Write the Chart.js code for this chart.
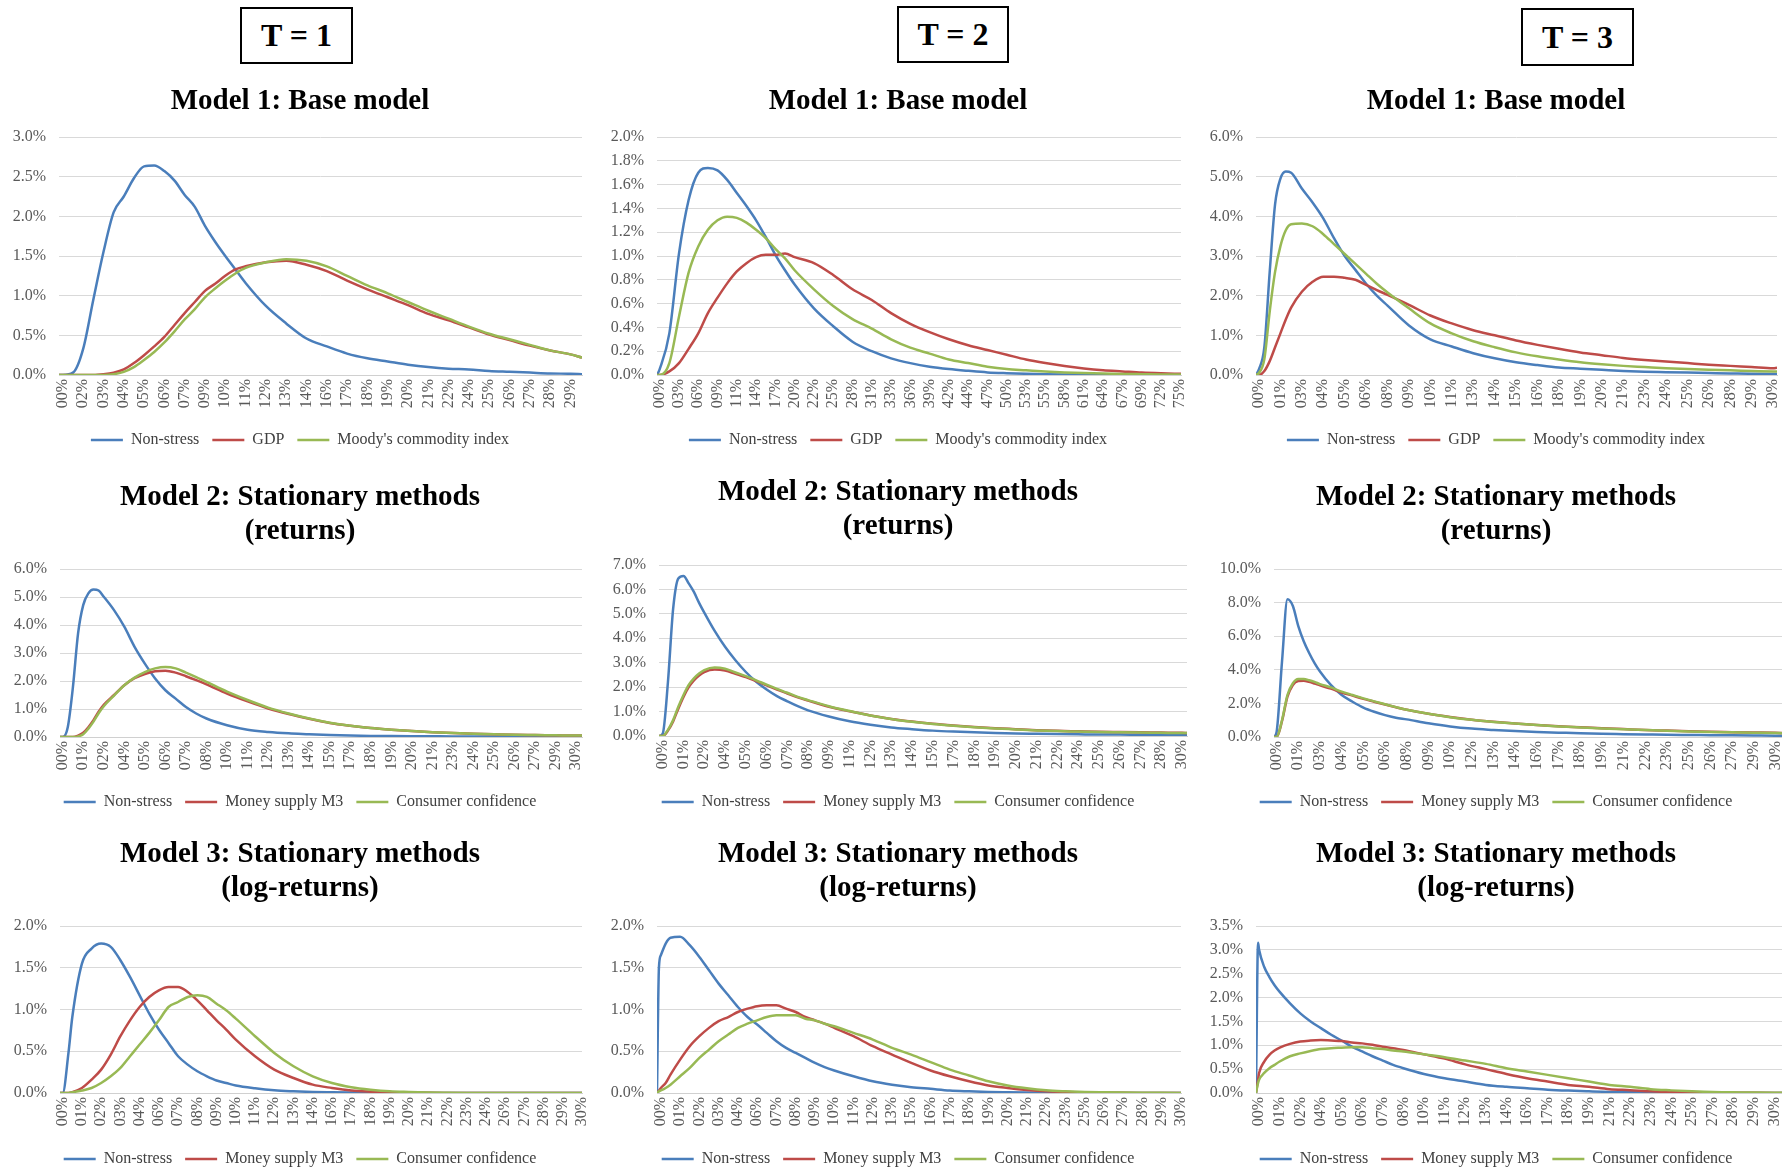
<!DOCTYPE html>
<html>
<head>
<meta charset="utf-8">
<script src="https://cdn.jsdelivr.net/npm/chart.js@4.4.1/dist/chart.umd.min.js"></script>
<style>
  body { margin: 0; width: 1782px; height: 1170px; overflow: hidden; background: #fff; position: relative;
         font-family: 'Liberation Serif', 'Times New Roman', serif; }
  .tbox { position: absolute; border: 2px solid #000; box-sizing: border-box; font-weight: bold; font-size: 32px;
          display: flex; align-items: center; justify-content: center; color: #000; }
  .cell { position: absolute; }
</style>
</head>
<body>
<div class="tbox" style="left:240px;top:7px;width:113px;height:57px">T = 1</div>
<div class="tbox" style="left:897px;top:6px;width:112px;height:57px">T = 2</div>
<div class="tbox" style="left:1521px;top:8px;width:113px;height:58px">T = 3</div>

<div class="cell" id="p1"><canvas></canvas></div>
<div class="cell" id="p2"><canvas></canvas></div>
<div class="cell" id="p3"><canvas></canvas></div>
<div class="cell" id="p4"><canvas></canvas></div>
<div class="cell" id="p5"><canvas></canvas></div>
<div class="cell" id="p6"><canvas></canvas></div>
<div class="cell" id="p7"><canvas></canvas></div>
<div class="cell" id="p8"><canvas></canvas></div>
<div class="cell" id="p9"><canvas></canvas></div>

<script>
// series names
const NAMES_M1 = ['Non-stress', 'GDP', "Moody's commodity index"];
const NAMES_M23 = ['Non-stress', 'Money supply M3', 'Consumer confidence'];

// x positions are in units of the printed tick labels (0 = first label)

// ---- T = 1, Model 1
const T1_M1_TICKS = ['00%','02%','03%','04%','05%','06%','07%','09%','10%','11%','12%','13%','14%','16%','17%','18%','19%','20%','21%','22%','24%','25%','26%','27%','28%','29%'];
const T1_M1_Y = [0, 0.5, 1, 1.5, 2, 2.5, 3];
const T1_M1_X = [-0.19, 0, 0.5, 1, 1.5, 2, 2.5, 3, 3.5, 4, 4.5, 5, 5.5, 6, 6.5, 7, 7.5, 8, 8.5, 9, 10, 11, 12, 13, 14, 15, 16, 17, 18, 19, 20, 21, 22, 23, 24, 25, 25.57];
const T1_M1_NONSTRESS = [0, 0, 0.03, 0.33, 0.95, 1.55, 2.05, 2.25, 2.48, 2.63, 2.64, 2.57, 2.45, 2.27, 2.12, 1.88, 1.68, 1.50, 1.33, 1.16, 0.87, 0.65, 0.46, 0.36, 0.27, 0.21, 0.17, 0.13, 0.10, 0.08, 0.07, 0.05, 0.04, 0.03, 0.02, 0.015, 0.01];
const T1_M1_GDP = [0, 0, 0, 0, 0, 0.01, 0.03, 0.07, 0.15, 0.25, 0.36, 0.48, 0.63, 0.78, 0.92, 1.06, 1.15, 1.25, 1.33, 1.37, 1.42, 1.44, 1.39, 1.31, 1.19, 1.08, 0.98, 0.88, 0.77, 0.69, 0.60, 0.51, 0.44, 0.37, 0.31, 0.26, 0.22];
const T1_M1_MOODYS = [0, 0, 0, 0, 0, 0, 0.01, 0.04, 0.10, 0.19, 0.29, 0.41, 0.55, 0.70, 0.83, 0.98, 1.09, 1.19, 1.28, 1.35, 1.42, 1.46, 1.44, 1.37, 1.25, 1.13, 1.03, 0.92, 0.81, 0.71, 0.61, 0.52, 0.45, 0.38, 0.31, 0.26, 0.22];

// ---- T = 2, Model 1
const T2_M1_TICKS = ['00%','03%','06%','09%','11%','14%','17%','20%','22%','25%','28%','31%','33%','36%','39%','42%','44%','47%','50%','53%','55%','58%','61%','64%','67%','69%','72%','75%'];
const T2_M1_Y = [0, 0.2, 0.4, 0.6, 0.8, 1.0, 1.2, 1.4, 1.6, 1.8, 2.0];
const T2_M1_X = [-0.14, 0, 0.5, 1, 1.5, 2, 2.5, 3, 3.5, 4, 4.5, 5, 5.5, 6, 6.5, 7, 8, 9, 10, 11, 12, 13, 14, 15, 16, 17, 18, 19, 20, 21, 22, 23, 24, 25, 26, 27.04];
const T2_M1_NONSTRESS = [0, 0.05, 0.35, 1.02, 1.47, 1.70, 1.74, 1.72, 1.64, 1.53, 1.42, 1.30, 1.16, 1.01, 0.88, 0.76, 0.56, 0.41, 0.28, 0.20, 0.14, 0.10, 0.07, 0.05, 0.035, 0.022, 0.015, 0.01, 0.007, 0.005, 0.004, 0.003, 0.002, 0.002, 0.001, 0.001];
const T2_M1_GDP = [0, 0, 0.03, 0.10, 0.22, 0.35, 0.52, 0.65, 0.77, 0.87, 0.94, 0.99, 1.01, 1.01, 1.02, 0.99, 0.94, 0.84, 0.72, 0.63, 0.52, 0.43, 0.36, 0.30, 0.25, 0.21, 0.17, 0.13, 0.10, 0.075, 0.055, 0.04, 0.03, 0.02, 0.014, 0.01];
const T2_M1_MOODYS = [0, 0, 0.10, 0.49, 0.86, 1.08, 1.22, 1.30, 1.33, 1.32, 1.28, 1.22, 1.15, 1.06, 0.98, 0.88, 0.72, 0.58, 0.47, 0.39, 0.30, 0.23, 0.18, 0.13, 0.10, 0.07, 0.05, 0.04, 0.03, 0.022, 0.016, 0.012, 0.009, 0.007, 0.005, 0.004];

// ---- T = 3, Model 1
const T3_M1_TICKS = ['00%','01%','03%','04%','05%','06%','08%','09%','10%','11%','13%','14%','15%','16%','18%','19%','20%','21%','23%','24%','25%','26%','28%','29%','30%'];
const T3_M1_Y = [0, 1, 2, 3, 4, 5, 6];
const T3_M1_X = [-0.14, 0, 0.25, 0.5, 0.75, 1, 1.25, 1.5, 2, 2.5, 3, 3.5, 4, 4.5, 5, 5.5, 6, 7, 8, 9, 10, 11, 12, 13, 14, 15, 16, 17, 18, 19, 20, 21, 22, 23, 24, 24.18];
const T3_M1_NONSTRESS = [0, 0.15, 0.7, 2.6, 4.3, 4.95, 5.13, 5.1, 4.7, 4.35, 3.95, 3.45, 3.0, 2.65, 2.3, 2.0, 1.75, 1.25, 0.9, 0.72, 0.55, 0.42, 0.32, 0.25, 0.19, 0.16, 0.13, 0.10, 0.08, 0.07, 0.06, 0.05, 0.04, 0.03, 0.025, 0.025];
const T3_M1_GDP = [0, 0, 0.1, 0.35, 0.7, 1.05, 1.4, 1.7, 2.1, 2.35, 2.48, 2.48, 2.45, 2.4, 2.27, 2.14, 2.02, 1.77, 1.5, 1.3, 1.13, 1.0, 0.87, 0.76, 0.66, 0.57, 0.5, 0.43, 0.38, 0.34, 0.3, 0.26, 0.23, 0.2, 0.17, 0.18];
const T3_M1_MOODYS = [0, 0.05, 0.4, 1.6, 2.6, 3.25, 3.65, 3.8, 3.82, 3.75, 3.55, 3.3, 3.05, 2.8, 2.55, 2.3, 2.08, 1.68, 1.3, 1.05, 0.85, 0.7, 0.57, 0.47, 0.39, 0.32, 0.27, 0.23, 0.2, 0.17, 0.15, 0.13, 0.12, 0.1, 0.09, 0.09];

// ---- T = 1, Model 2
const T1_M2_TICKS = ['00%','01%','02%','04%','05%','06%','07%','08%','10%','11%','12%','13%','14%','15%','17%','18%','19%','20%','21%','23%','24%','25%','26%','27%','29%','30%'];
const T1_M2_Y = [0, 1, 2, 3, 4, 5, 6];
const T1_M2_X = [-0.13, 0, 0.25, 0.5, 0.75, 1, 1.25, 1.5, 1.75, 2, 2.5, 3, 3.5, 4, 4.5, 5, 5.5, 6, 6.5, 7, 8, 9, 10, 11, 12, 13, 14, 15, 16, 17, 18, 19, 20, 21, 22, 23, 24, 25, 25.28];
const T1_M2_NONSTRESS = [0, 0, 0.36, 1.79, 3.7, 4.71, 5.13, 5.27, 5.23, 5.01, 4.53, 3.94, 3.22, 2.62, 2.09, 1.67, 1.37, 1.07, 0.84, 0.66, 0.42, 0.26, 0.18, 0.13, 0.10, 0.07, 0.05, 0.04, 0.035, 0.03, 0.025, 0.02, 0.02, 0.018, 0.015, 0.013, 0.012, 0.01, 0.01];
const T1_M2_M3 = [0, 0, 0, 0, 0.05, 0.15, 0.35, 0.6, 0.9, 1.15, 1.5, 1.85, 2.1, 2.25, 2.35, 2.37, 2.3, 2.17, 2.03, 1.88, 1.55, 1.27, 1.02, 0.82, 0.65, 0.5, 0.4, 0.32, 0.26, 0.21, 0.17, 0.14, 0.12, 0.1, 0.08, 0.07, 0.06, 0.05, 0.05];
const T1_M2_CONF = [0, 0, 0, 0, 0.02, 0.1, 0.3, 0.55, 0.85, 1.1, 1.48, 1.85, 2.12, 2.32, 2.45, 2.5, 2.45, 2.3, 2.14, 1.97, 1.62, 1.32, 1.05, 0.84, 0.66, 0.51, 0.4, 0.32, 0.26, 0.21, 0.17, 0.14, 0.12, 0.1, 0.08, 0.07, 0.06, 0.05, 0.05];

// ---- T = 2, Model 2
const T2_M2_TICKS = ['00%','01%','02%','04%','05%','06%','07%','08%','09%','11%','12%','13%','14%','15%','17%','18%','19%','20%','21%','22%','24%','25%','26%','27%','28%','30%'];
const T2_M2_Y = [0, 1, 2, 3, 4, 5, 6, 7];
const T2_M2_X = [-0.18, 0, 0.25, 0.5, 0.75, 1, 1.25, 1.5, 1.75, 2, 2.5, 3, 3.5, 4, 4.5, 5, 5.5, 6, 6.5, 7, 8, 9, 10, 11, 12, 13, 14, 15, 16, 17, 18, 19, 20, 21, 22, 23, 24, 25, 25.24];
const T2_M2_NONSTRESS = [0, 0.1, 2.2, 5.2, 6.45, 6.55, 6.25, 5.9, 5.45, 5.05, 4.3, 3.65, 3.1, 2.62, 2.22, 1.9, 1.63, 1.42, 1.22, 1.05, 0.8, 0.6, 0.46, 0.35, 0.28, 0.22, 0.18, 0.15, 0.12, 0.1, 0.09, 0.08, 0.07, 0.06, 0.06, 0.05, 0.05, 0.04, 0.04];
const T2_M2_M3 = [0, 0, 0.22, 0.6, 1.12, 1.6, 2.0, 2.28, 2.48, 2.62, 2.72, 2.68, 2.55, 2.41, 2.25, 2.07, 1.9, 1.74, 1.58, 1.45, 1.2, 1.01, 0.84, 0.7, 0.59, 0.5, 0.43, 0.37, 0.32, 0.28, 0.24, 0.21, 0.19, 0.17, 0.16, 0.15, 0.14, 0.13, 0.12];
const T2_M2_CONF = [0, 0, 0.25, 0.65, 1.2, 1.68, 2.09, 2.36, 2.56, 2.7, 2.8, 2.75, 2.6, 2.45, 2.28, 2.1, 1.93, 1.77, 1.6, 1.47, 1.22, 1.02, 0.84, 0.7, 0.58, 0.49, 0.42, 0.36, 0.31, 0.27, 0.23, 0.2, 0.18, 0.16, 0.15, 0.14, 0.13, 0.12, 0.12];

// ---- T = 3, Model 2
const T3_M2_TICKS = ['00%','01%','03%','04%','05%','06%','08%','09%','10%','12%','13%','14%','16%','17%','18%','19%','21%','22%','23%','25%','26%','27%','29%','30%'];
const T3_M2_Y = [0, 2, 4, 6, 8, 10];
const T3_M2_X = [-0.12, 0, 0.25, 0.5, 0.75, 1, 1.25, 1.5, 1.75, 2, 2.5, 3, 3.5, 4, 4.5, 5, 5.5, 6, 7, 8, 9, 10, 11, 12, 13, 14, 15, 16, 17, 18, 19, 20, 21, 22, 23, 23.3];
const T3_M2_NONSTRESS = [0, 0.3, 4.5, 8.2, 7.8, 6.6, 5.7, 5.0, 4.4, 3.9, 3.1, 2.5, 2.1, 1.75, 1.5, 1.3, 1.15, 1.05, 0.82, 0.63, 0.5, 0.42, 0.35, 0.3, 0.26, 0.22, 0.19, 0.17, 0.15, 0.13, 0.12, 0.11, 0.1, 0.09, 0.08, 0.08];
const T3_M2_M3 = [0, 0, 0.95, 2.4, 3.1, 3.33, 3.35, 3.28, 3.18, 3.07, 2.88, 2.65, 2.46, 2.27, 2.1, 1.93, 1.77, 1.62, 1.38, 1.19, 1.03, 0.91, 0.81, 0.72, 0.64, 0.58, 0.52, 0.47, 0.42, 0.38, 0.34, 0.31, 0.29, 0.27, 0.25, 0.24];
const T3_M2_CONF = [0, 0, 1.0, 2.5, 3.2, 3.45, 3.45, 3.38, 3.28, 3.15, 2.95, 2.7, 2.5, 2.3, 2.12, 1.95, 1.78, 1.62, 1.38, 1.18, 1.02, 0.9, 0.8, 0.71, 0.63, 0.57, 0.51, 0.46, 0.41, 0.37, 0.33, 0.3, 0.28, 0.26, 0.24, 0.23];

// ---- T = 1, Model 3
const T1_M3_TICKS = ['00%','01%','02%','03%','04%','06%','07%','08%','09%','10%','11%','12%','13%','14%','16%','17%','18%','19%','20%','21%','22%','23%','24%','26%','27%','28%','29%','30%'];
const T1_M3_Y = [0, 0.5, 1, 1.5, 2];
const T1_M3_X = [-0.14, 0, 0.3, 0.5, 1, 1.5, 2, 2.5, 3, 3.5, 4, 4.5, 5, 5.5, 6, 6.5, 7, 7.5, 8, 8.5, 9, 10, 11, 12, 13, 14, 15, 16, 17, 18, 19, 20, 21, 22, 23, 24, 25, 26, 27];
const T1_M3_NONSTRESS = [0, 0, 0.48, 0.91, 1.55, 1.73, 1.79, 1.75, 1.59, 1.39, 1.17, 0.95, 0.76, 0.6, 0.44, 0.34, 0.26, 0.2, 0.15, 0.12, 0.09, 0.056, 0.032, 0.02, 0.012, 0.008, 0.005, 0.003, 0.002, 0.002, 0.001, 0.001, 0, 0, 0, 0, 0, 0, 0];
const T1_M3_M3 = [0, 0, 0, 0.01, 0.06, 0.16, 0.28, 0.46, 0.68, 0.87, 1.03, 1.15, 1.23, 1.27, 1.27, 1.21, 1.11, 0.99, 0.87, 0.76, 0.64, 0.44, 0.28, 0.18, 0.1, 0.06, 0.03, 0.016, 0.008, 0.004, 0.002, 0.001, 0, 0, 0, 0, 0, 0, 0];
const T1_M3_CONF = [0, 0, 0, 0.01, 0.03, 0.06, 0.12, 0.2, 0.3, 0.44, 0.58, 0.72, 0.87, 1.03, 1.09, 1.15, 1.17, 1.15, 1.07, 0.99, 0.89, 0.68, 0.48, 0.32, 0.2, 0.12, 0.07, 0.04, 0.02, 0.012, 0.006, 0.003, 0.001, 0, 0, 0, 0, 0, 0];

// ---- T = 2, Model 3
const T2_M3_TICKS = ['00%','01%','02%','03%','04%','06%','07%','08%','09%','10%','11%','12%','13%','15%','16%','17%','18%','19%','20%','21%','22%','23%','25%','26%','27%','28%','29%','30%'];
const T2_M3_Y = [0, 0.5, 1, 1.5, 2];
const T2_M3_X = [-0.2, -0.1, 0, 0.25, 0.5, 1, 1.5, 2, 2.5, 3, 3.5, 4, 4.5, 5, 5.5, 6, 6.5, 7, 7.5, 8, 8.5, 9, 10, 11, 12, 13, 14, 15, 16, 17, 18, 19, 20, 21, 22, 23, 24, 25, 26, 27];
const T2_M3_NONSTRESS = [0, 1.5, 1.65, 1.79, 1.86, 1.87, 1.77, 1.63, 1.47, 1.31, 1.17, 1.03, 0.91, 0.82, 0.72, 0.62, 0.54, 0.48, 0.42, 0.36, 0.31, 0.27, 0.2, 0.14, 0.1, 0.07, 0.05, 0.03, 0.02, 0.012, 0.008, 0.005, 0.003, 0.002, 0.001, 0.001, 0, 0, 0, 0];
const T2_M3_M3 = [0, 0.03, 0.06, 0.12, 0.22, 0.4, 0.56, 0.68, 0.78, 0.86, 0.91, 0.97, 1.01, 1.04, 1.05, 1.05, 1.01, 0.97, 0.91, 0.87, 0.83, 0.78, 0.68, 0.56, 0.46, 0.36, 0.27, 0.2, 0.14, 0.09, 0.06, 0.036, 0.02, 0.012, 0.007, 0.004, 0.002, 0.001, 0, 0];
const T2_M3_CONF = [0, 0.02, 0.03, 0.06, 0.1, 0.2, 0.3, 0.42, 0.52, 0.62, 0.7, 0.78, 0.83, 0.87, 0.91, 0.93, 0.93, 0.93, 0.89, 0.87, 0.83, 0.8, 0.72, 0.64, 0.54, 0.46, 0.37, 0.28, 0.21, 0.14, 0.09, 0.056, 0.032, 0.02, 0.012, 0.008, 0.005, 0.003, 0.002, 0.001];

// ---- T = 3, Model 3
const T3_M3_TICKS = ['00%','01%','02%','04%','05%','06%','07%','08%','10%','11%','12%','13%','14%','16%','17%','18%','19%','21%','22%','23%','24%','25%','27%','28%','29%','30%'];
const T3_M3_Y = [0, 0.5, 1, 1.5, 2, 2.5, 3, 3.5];
const T3_M3_X = [-0.15, -0.05, 0, 0.25, 0.5, 0.75, 1, 1.5, 2, 2.5, 3, 3.5, 4, 4.5, 5, 5.5, 6, 6.5, 7, 8, 9, 10, 11, 12, 13, 14, 15, 16, 17, 18, 19, 20, 21, 22, 23, 24, 25, 25.37];
const T3_M3_NONSTRESS = [0, 3.15, 3.0, 2.64, 2.43, 2.26, 2.12, 1.88, 1.67, 1.5, 1.36, 1.22, 1.1, 0.97, 0.87, 0.77, 0.68, 0.59, 0.52, 0.4, 0.31, 0.24, 0.17, 0.13, 0.1, 0.07, 0.05, 0.035, 0.022, 0.015, 0.01, 0.007, 0.005, 0.003, 0.002, 0.001, 0.001, 0.001];
const T3_M3_M3 = [0, 0.28, 0.42, 0.66, 0.8, 0.89, 0.95, 1.03, 1.08, 1.1, 1.11, 1.1, 1.09, 1.06, 1.04, 1.01, 0.97, 0.94, 0.9, 0.81, 0.72, 0.6, 0.5, 0.4, 0.31, 0.24, 0.17, 0.13, 0.08, 0.06, 0.035, 0.02, 0.014, 0.008, 0.005, 0.003, 0.002, 0.002];
const T3_M3_CONF = [0, 0.21, 0.28, 0.42, 0.52, 0.59, 0.66, 0.77, 0.83, 0.88, 0.92, 0.94, 0.95, 0.96, 0.96, 0.94, 0.92, 0.89, 0.87, 0.81, 0.75, 0.68, 0.61, 0.52, 0.45, 0.38, 0.31, 0.24, 0.17, 0.13, 0.08, 0.055, 0.035, 0.02, 0.014, 0.008, 0.005, 0.005];

const COLORS = ['#4A7EBB', '#BE4B48', '#98B954'];
const FONT = "'Liberation Serif', 'Times New Roman', serif";

// box: [left, top, width, height], yw: y axis width, pr: right gap, tb: gap under title,
// xh: x axis height, lp: legend padding
const panels = [
  { id: 'p1', title: 'Model 1: Base model', ticks: T1_M1_TICKS, xs: T1_M1_X, ys: T1_M1_Y, names: NAMES_M1,
    series: [T1_M1_NONSTRESS, T1_M1_GDP, T1_M1_MOODYS], box: [0, 85, 600, 373], yw: 59, pr: 18, tb: 18, xh: 44, lp: 13 },
  { id: 'p2', title: 'Model 1: Base model', ticks: T2_M1_TICKS, xs: T2_M1_X, ys: T2_M1_Y, names: NAMES_M1,
    series: [T2_M1_NONSTRESS, T2_M1_GDP, T2_M1_MOODYS], box: [605, 85, 586, 373], yw: 52, pr: 10, tb: 18, xh: 44, lp: 13 },
  { id: 'p3', title: 'Model 1: Base model', ticks: T3_M1_TICKS, xs: T3_M1_X, ys: T3_M1_Y, names: NAMES_M1,
    series: [T3_M1_NONSTRESS, T3_M1_GDP, T3_M1_MOODYS], box: [1210, 85, 572, 373], yw: 46, pr: 5, tb: 18, xh: 44, lp: 13 },
  { id: 'p4', title: ['Model 2: Stationary methods', '(returns)'], ticks: T1_M2_TICKS, xs: T1_M2_X, ys: T1_M2_Y, names: NAMES_M23,
    series: [T1_M2_NONSTRESS, T1_M2_M3, T1_M2_CONF], box: [0, 481, 600, 339], yw: 60, pr: 18, tb: 20, xh: 44, lp: 13 },
  { id: 'p5', title: ['Model 2: Stationary methods', '(returns)'], ticks: T2_M2_TICKS, xs: T2_M2_X, ys: T2_M2_Y, names: NAMES_M23,
    series: [T2_M2_NONSTRESS, T2_M2_M3, T2_M2_CONF], box: [605, 476, 586, 344], yw: 54, pr: 4, tb: 21, xh: 45, lp: 13 },
  { id: 'p6', title: ['Model 2: Stationary methods', '(returns)'], ticks: T3_M2_TICKS, xs: T3_M2_X, ys: T3_M2_Y, names: NAMES_M23,
    series: [T3_M2_NONSTRESS, T3_M2_M3, T3_M2_CONF], box: [1210, 481, 572, 339], yw: 64, pr: 0, tb: 20, xh: 44, lp: 13 },
  { id: 'p7', title: ['Model 3: Stationary methods', '(log-returns)'], ticks: T1_M3_TICKS, xs: T1_M3_X, ys: T1_M3_Y, names: NAMES_M23,
    series: [T1_M3_NONSTRESS, T1_M3_M3, T1_M3_CONF], box: [0, 838, 600, 339], yw: 60, pr: 18, tb: 20, xh: 45, lp: 13 },
  { id: 'p8', title: ['Model 3: Stationary methods', '(log-returns)'], ticks: T2_M3_TICKS, xs: T2_M3_X, ys: T2_M3_Y, names: NAMES_M23,
    series: [T2_M3_NONSTRESS, T2_M3_M3, T2_M3_CONF], box: [605, 838, 586, 339], yw: 52, pr: 10, tb: 20, xh: 45, lp: 13 },
  { id: 'p9', title: ['Model 3: Stationary methods', '(log-returns)'], ticks: T3_M3_TICKS, xs: T3_M3_X, ys: T3_M3_Y, names: NAMES_M23,
    series: [T3_M3_NONSTRESS, T3_M3_M3, T3_M3_CONF], box: [1210, 838, 572, 339], yw: 46, pr: 0, tb: 20, xh: 45, lp: 13 }
];

panels.forEach(p => {
  const cell = document.getElementById(p.id);
  const [l, t, w, h] = p.box;
  cell.style.left = l + 'px';
  cell.style.top = t + 'px';
  cell.style.width = w + 'px';
  cell.style.height = h + 'px';

  const datasets = p.series.map((s, k) => ({
    label: p.names[k],
    data: p.xs.map((x, i) => ({ x: x, y: s[i] })),
    borderColor: COLORS[k],
    backgroundColor: COLORS[k],
    borderWidth: 2.5,
    pointRadius: 0,
    fill: false,
    cubicInterpolationMode: 'monotone',
    order: 3 - k
  }));

  new Chart(cell.querySelector('canvas'), {
    type: 'line',
    data: { datasets },
    options: {
      responsive: true,
      maintainAspectRatio: false,
      animation: false,
      events: [],
      devicePixelRatio: 1,
      layout: { padding: 0 },
      plugins: {
        title: {
          display: true,
          text: p.title,
          color: '#000',
          font: { family: FONT, size: 29, weight: 'bold', lineHeight: '34px' },
          padding: { top: 0, bottom: p.tb }
        },
        legend: {
          position: 'bottom',
          labels: {
            boxWidth: 32,
            boxHeight: 0,
            padding: p.lp,
            color: '#404040',
            font: { family: FONT, size: 16 },
            sort: (a, b) => a.datasetIndex - b.datasetIndex
          }
        },
        tooltip: { enabled: false }
      },
      scales: {
        x: {
          type: 'linear',
          min: p.xs[0],
          max: p.xs[p.xs.length - 1],
          afterBuildTicks: s => { s.ticks = p.ticks.map((_, i) => ({ value: i })); },
          afterFit: s => { s.height = p.xh; s.paddingLeft = 0; s.paddingRight = p.pr; },
          grid: { display: false, drawTicks: false },
          border: { display: true, color: '#d0d0d0', width: 1 },
          ticks: {
            autoSkip: false,
            minRotation: 90,
            maxRotation: 90,
            padding: 4,
            color: '#595959',
            font: { family: FONT, size: 16 },
            callback: (v, i) => p.ticks[i]
          }
        },
        y: {
          min: p.ys[0],
          max: p.ys[p.ys.length - 1],
          afterBuildTicks: s => { s.ticks = p.ys.map(v => ({ value: v })); },
          afterFit: s => { s.width = p.yw; },
          grid: { color: '#d9d9d9', lineWidth: 1, drawTicks: false },
          border: { display: false },
          ticks: {
            padding: 13,
            color: '#595959',
            font: { family: FONT, size: 16 },
            callback: v => v.toFixed(1) + '%'
          }
        }
      }
    }
  });
});
</script>
</body>
</html>
